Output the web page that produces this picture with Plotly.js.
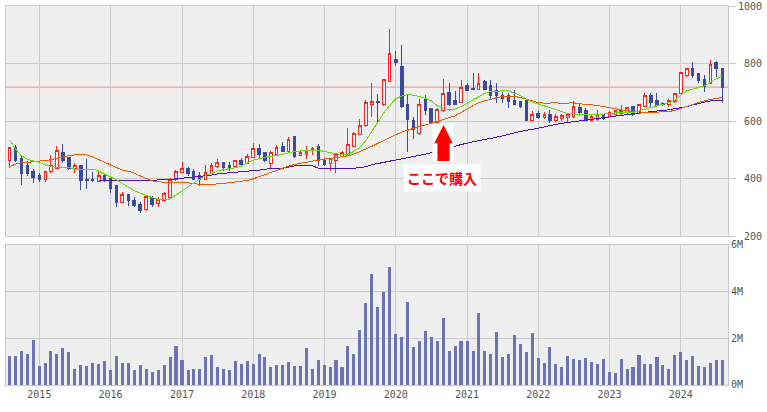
<!DOCTYPE html>
<html><head><meta charset="utf-8">
<script src="https://cdn.plot.ly/plotly-3.0.1.min.js"></script>
<style>
html,body{margin:0;padding:0;background:#fff}
#chart{width:767px;height:412px}
.scatterlayer .js-line, .boxlayer path {shape-rendering:crispEdges}
</style>
</head><body><div id="chart"></div>
<script>
// first month of the series (Aug 2014), one candle per month
const startYear = 2014, startMonth = 8;

const openP = [462,509,468,447,424,412,395,424,435,491,
  472,435,447,395,397,391,412,401,374,316,
  346,325,311,293,333,314,322,335,395,422,
  435,426,411,398,418,441,456,444,441,464,
  453,474,506,489,453,482,511,493,545,479,
  483,496,510,462,453,462,478,482,513,554,
  583,656,667,656,739,815,791,656,601,558,
  675,644,594,636,700,671,665,722,714,710,
  737,725,705,690,690,671,667,673,603,627,
  612,624,603,607,612,615,648,635,603,606,
  621,615,624,627,631,650,627,652,690,670,
  662,656,667,696,760,781,766,746,731,804,783];
const highP = [511,517,482,462,433,420,426,482,514,520,
  476,453,447,467,424,426,418,401,377,354,
  346,335,319,343,340,335,353,403,430,458,
  441,433,424,447,454,467,458,458,464,470,
  485,522,520,493,496,516,527,545,548,499,
  513,511,520,469,471,490,496,577,563,607,
  673,731,693,743,920,843,864,690,613,677,
  690,646,644,745,733,705,743,731,768,766,
  743,743,733,700,699,708,671,676,635,636,
  630,638,623,624,629,671,664,644,623,638,
  624,635,638,656,650,653,656,696,696,696,
  667,676,698,771,785,804,766,760,812,809,783];
const lowP = [435,457,377,409,385,388,389,418,432,455,
  430,418,360,362,388,388,389,351,302,314,
  304,300,279,288,300,300,318,331,391,422,
  410,395,375,395,416,435,427,427,435,441,
  450,470,467,456,438,478,491,490,472,478,
  467,482,444,444,427,420,474,478,511,551,
  580,615,594,652,735,791,645,493,536,551,
  621,590,592,632,652,656,662,705,708,708,
  708,673,664,664,644,659,645,603,598,606,
  606,594,598,601,598,612,624,600,600,601,
  603,613,621,621,624,618,624,650,650,648,
  652,650,664,694,754,749,731,702,729,754,664];
const closeP = [509,464,418,418,403,397,426,445,498,462,
  435,444,392,393,394,412,398,364,316,346,
  323,307,290,337,308,328,349,398,424,435,
  416,398,395,422,447,454,437,439,461,450,
  477,506,483,461,491,509,493,537,478,492,
  493,505,462,449,469,482,492,519,557,586,
  665,667,663,743,835,803,652,606,569,659,
  638,590,641,696,659,659,717,705,711,731,
  710,690,690,677,668,659,652,603,621,613,
  621,603,615,618,621,652,629,603,615,621,
  607,629,636,636,646,621,656,690,664,653,
  659,673,694,769,781,760,740,719,798,783,717];
// monthly volume, millions of shares
const volumeM = [1.24,1.24,1.46,1.34,1.93,0.81,0.94,1.46,1.34,1.59,
  1.41,0.69,0.86,0.81,0.94,0.90,1.03,0.64,1.24,0.94,
  0.94,0.64,0.86,0.69,0.56,0.64,0.86,1.20,1.67,1.07,
  0.64,0.69,0.69,1.20,1.29,0.77,0.69,0.64,1.03,0.90,
  1.03,0.90,1.33,1.20,0.77,0.86,0.86,0.99,0.81,0.81,
  1.59,0.69,1.07,0.86,0.77,1.07,0.77,1.67,1.33,2.36,
  3.51,4.76,3.34,3.99,5.06,2.19,2.06,3.56,1.63,1.89,
  2.31,2.06,1.89,2.87,1.46,1.67,1.89,1.89,1.46,3.09,
  1.46,1.33,2.27,1.20,1.33,2.14,1.76,1.41,2.23,1.16,
  0.94,1.63,0.90,0.77,1.24,1.11,1.07,1.16,0.99,0.90,
  1.11,0.56,0.51,1.11,0.69,0.77,1.29,0.90,0.90,1.20,
  0.86,0.69,1.29,1.41,1.07,1.24,0.81,0.77,0.94,1.07,1.07];
// moving averages
const maShort = [534,503,479,467,461,456,447,441,439,439,
  439,433,433,433,433,426,417,405,395,383,
  370,358,349,341,334,328,326,329,343,355,
  369,384,398,410,418,426,431,433,437,443,
  455,464,470,474,477,480,484,489,494,496,
  497,498,499,494,489,486,484,484,495,508,
  532,562,595,628,655,677,687,692,690,685,
  679,670,654,642,638,642,650,662,673,683,
  696,702,704,705,705,698,689,676,665,659,
  652,646,638,631,626,624,622,621,621,622,
  624,627,629,629,629,629,635,641,646,652,
  658,666,670,690,705,711,717,722,734,747,756];
const maMid = [441,450,454,456,457,459,461,465,470,476,
  480,482,482,482,475,466,457,446,437,429,
  425,419,409,400,392,388,387,387,387,387,
  384,382,380,380,380,381,383,386,389,391,
  393,399,407,414,422,430,437,443,449,453,
  456,460,463,468,470,473,475,479,485,493,
  501,512,522,533,543,552,561,568,574,581,
  586,592,599,606,612,618,630,641,654,664,
  670,676,681,685,685,685,682,676,668,664,
  662,663,663,662,663,663,660,658,658,654,
  650,646,642,638,635,633,631,630,630,631,
  631,633,637,643,650,657,665,671,675,678,682];
const maLong = [null,null,null,null,null,null,null,null,null,null,
  null,null,null,null,null,393,393,393,393,393,
  395,395,395,395,395,395,395,397,400,401,
  403,405,406,408,412,416,418,420,422,425,
  427,428,430,431,436,436,436,440,444,444,
  444,444,436,434,434,434,435,436,436,437,
  441,448,452,456,461,466,470,473,476,480,
  485,490,496,502,508,513,518,523,528,533,
  536,539,543,548,553,559,564,568,571,576,
  580,584,588,592,595,597,600,602,605,608,
  611,615,618,621,623,626,628,630,633,635,
  637,639,642,645,650,656,661,666,670,671,672];
const refPrice = 718;
const priceTicks = [200,400,600,800,1000];
const volTicks = [0,2,4,6];
const noteText = 'ここで購入';

const months = openP.map((_, i) => {
  const m = startMonth - 1 + i;
  const y = startYear + Math.floor(m / 12);
  const mm = (m % 12) + 1;
  return y + '-' + String(mm).padStart(2, '0') + '-01';
});

const fontTick = {family: 'DejaVu Sans Mono', size: 10, color: '#555'};
const grid = '#c9c9c9';
const pad = s => '\u2007'.repeat(4 - s.length) + s;

const traces = [
  {type: 'scatter', mode: 'lines', x: months, y: maLong, line: {color: '#5010bb', width: 1}, hoverinfo: 'skip', xaxis: 'x', yaxis: 'y'},
  {type: 'scatter', mode: 'lines', x: months, y: maMid, line: {color: '#ee5a00', width: 1}, hoverinfo: 'skip', xaxis: 'x', yaxis: 'y'},
  {type: 'scatter', mode: 'lines', x: months, y: maShort, line: {color: '#66dd00', width: 1}, hoverinfo: 'skip', xaxis: 'x', yaxis: 'y'},
  {type: 'candlestick', x: months, open: openP, high: highP, low: lowP, close: closeP,
   increasing: {line: {color: '#ff2020', width: 1}, fillcolor: '#ffffff'},
   decreasing: {line: {color: '#3a4a9c', width: 1}, fillcolor: '#3a4a9c'},
   whiskerwidth: 0, xaxis: 'x', yaxis: 'y'},
  {type: 'bar', x: months, y: volumeM, width: 16 * 86400000, marker: {color: '#6c74b4', line: {width: 0}}, xaxis: 'x2', yaxis: 'y2'}
];

const xRange = ['2014-07-14', '2024-08-30'];
const X0 = 0.59044, X1 = 0.62008;
const layout = {
  width: 767, height: 412,
  margin: {l: 6, r: 39, t: 6, b: 27},
  paper_bgcolor: '#ffffff', plot_bgcolor: '#efefef',
  showlegend: false,
  boxgap: 0.3, boxgroupgap: 0.3,
  bargap: 0,
  xaxis: {range: xRange, type: 'date', anchor: 'y', domain: [0, 1], showticklabels: false,
    tick0: '2015-01-01', dtick: 'M12', gridcolor: grid, showline: true, linecolor: grid, mirror: true,
    rangeslider: {visible: false}, zeroline: false, fixedrange: true},
  yaxis: {range: [200, 1000], domain: [0.3931, 1], side: 'right', anchor: 'x',
    tickvals: priceTicks, ticktext: priceTicks.map(v => pad(String(v))),
    tickfont: fontTick, ticks: 'outside', ticklen: 7, tickcolor: grid,
    gridcolor: grid, showline: true, linecolor: grid, mirror: true, zeroline: false},
  xaxis2: {range: xRange, type: 'date', anchor: 'y2', domain: [0, 1], matches: 'x',
    tick0: '2015-01-01', dtick: 'M12', tickformat: '%Y', tickfont: fontTick,
    gridcolor: grid, showline: true, linecolor: grid, mirror: true, ticks: '', zeroline: false},
  yaxis2: {range: [0, 6], domain: [0, 0.3694], side: 'right', anchor: 'x2',
    tickvals: volTicks, ticktext: volTicks.map(v => v + 'M'),
    tickfont: fontTick, ticks: '', ticklabelstandoff: 0,
    gridcolor: grid, showline: true, linecolor: grid, mirror: true, zeroline: false},
  shapes: [
    {type: 'line', xref: 'paper', x0: 0, x1: 1, yref: 'y', y0: refPrice, y1: refPrice,
     line: {color: '#f08a8a', width: 1}, layer: 'below'},
    {type: 'rect', xref: 'paper', yref: 'paper', x0: X0, x1: X1, y0: 0.58918, y1: 0.69050,
     fillcolor: '#ffffff', line: {width: 0}},
    {type: 'path', xref: 'paper', yref: 'paper',
     path: 'M 0.60596 0.68602 L 0.61870 0.63773 L 0.61427 0.63773 L 0.61427 0.59103 L 0.59765 0.59103 L 0.59765 0.63773 L 0.59321 0.63773 Z',
     fillcolor: '#ff0000', line: {width: 0}}
  ],
  annotations: [
    {xref: 'paper', yref: 'paper', x: 0.60346, y: 0.54617, xanchor: 'center', yanchor: 'middle',
     text: '<b>' + noteText + '</b>', showarrow: false, bgcolor: '#ffffff', borderpad: 3,
     font: {family: 'Noto Sans CJK JP', size: 14, color: '#ff0000'}}
  ]
};

Plotly.newPlot('chart', traces, layout, {staticPlot: true, displayModeBar: false});
</script>
</body></html>
